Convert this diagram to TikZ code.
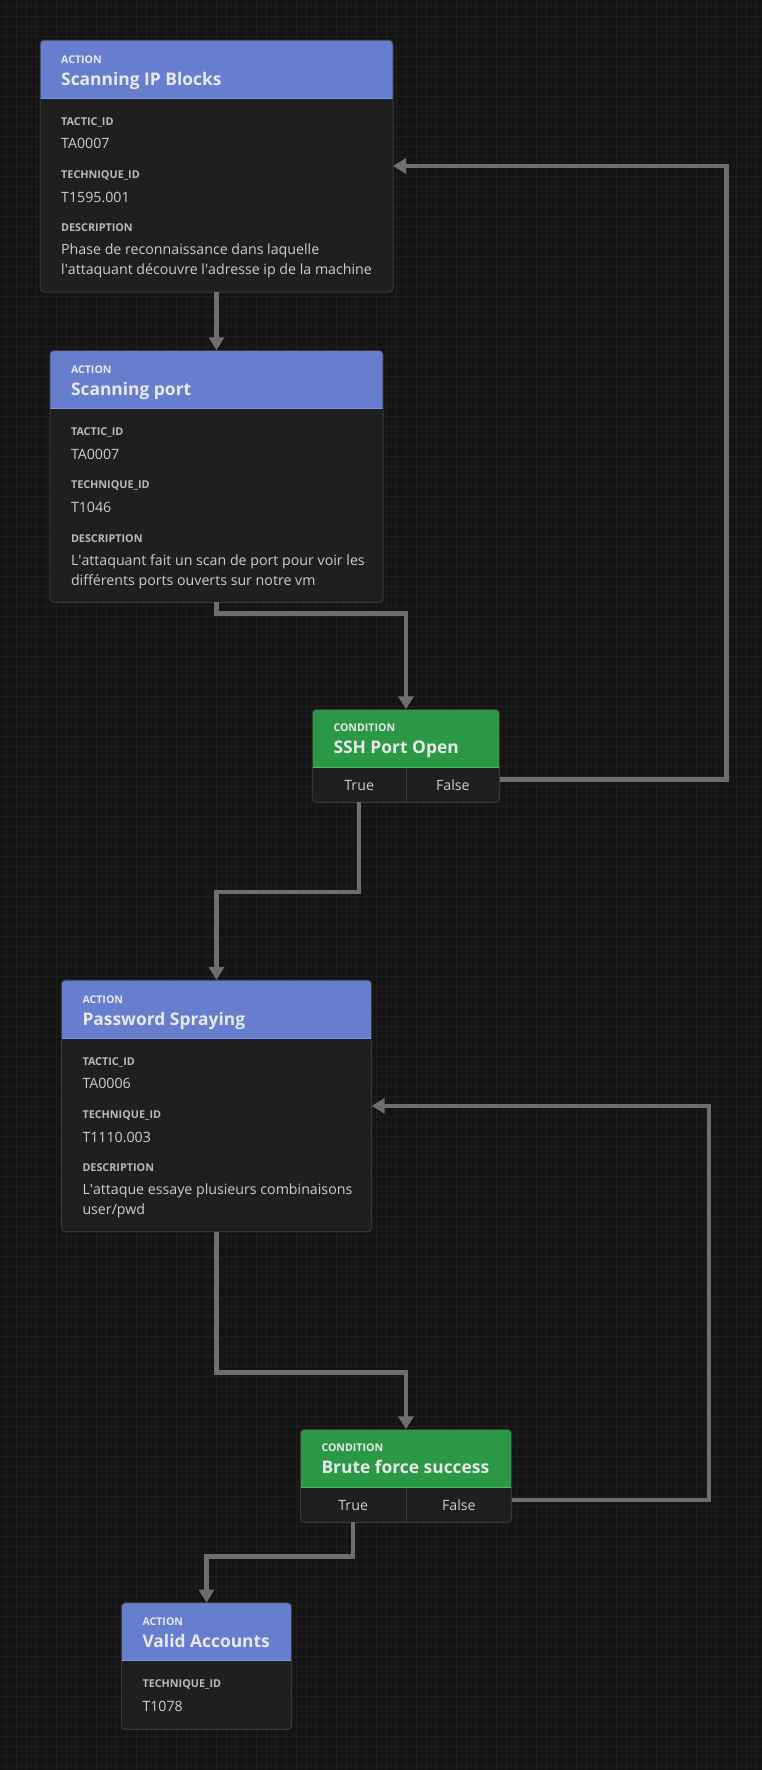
\documentclass[tikz,border=0pt]{standalone}
\usepackage{fontspec}
\setmainfont{Open Sans}
\usetikzlibrary{positioning,arrows.meta,calc}

\definecolor{canvas}{RGB}{20,20,20}
\definecolor{gridcol}{RGB}{30,30,30}
\definecolor{cardbody}{RGB}{31,31,31}
\definecolor{cardedge}{RGB}{56,56,56}
\definecolor{actionhead}{RGB}{102,126,205}
\definecolor{actionline}{RGB}{125,150,240}
\definecolor{condhead}{RGB}{43,152,69}
\definecolor{condline}{RGB}{72,190,98}
\definecolor{headtext}{RGB}{232,232,236}
\definecolor{labeltext}{RGB}{185,185,185}
\definecolor{valuetext}{RGB}{205,205,205}
\definecolor{wirecol}{RGB}{110,110,110}

\begin{document}
\begin{tikzpicture}[
    x=1pt, y=-1pt,
    >={Triangle[width=15pt,length=13pt]},
    card/.style={draw=cardedge, fill=cardbody, line width=1pt, rounded corners=4pt,
        inner sep=0pt, outer sep=0pt, anchor=north west},
    action/.style={card, path picture={
        \fill[actionhead, sharp corners] (path picture bounding box.north west)
            rectangle ([yshift=-58pt]path picture bounding box.north east);
        \draw[actionline, line width=1pt, sharp corners] ([yshift=-58pt]path picture bounding box.north west)
            -- ([yshift=-58pt]path picture bounding box.north east);}},
    condition/.style={card, minimum width=187.4pt, minimum height=93pt, path picture={
        \fill[condhead, sharp corners] (path picture bounding box.north west)
            rectangle ([yshift=-58pt]path picture bounding box.north east);
        \draw[condline, line width=1pt, sharp corners] ([yshift=-58pt]path picture bounding box.north west)
            -- ([yshift=-58pt]path picture bounding box.north east);}},
    kind/.style={anchor=base west, inner sep=0pt, text=headtext, font=\fontsize{10.6}{13}\selectfont\bfseries},
    title/.style={anchor=base west, inner sep=0pt, text=headtext, font=\fontsize{17.4}{21}\selectfont\bfseries},
    field/.style={anchor=base west, inner sep=0pt, text=labeltext, font=\fontsize{10.8}{13}\selectfont\bfseries},
    value/.style={anchor=base west, inner sep=0pt, text=valuetext, font=\fontsize{14.2}{18}\selectfont},
    branch/.style={anchor=base, inner sep=0pt, text=valuetext, font=\fontsize{14.2}{18}\selectfont},
    wire/.style={draw=wirecol, line width=4.5pt, ->}
]

    % canvas and grid
    \fill[canvas] (0,0) rectangle (762,1770);
    \useasboundingbox (0,0) rectangle (762,1770);
    \foreach \gx in {6,16,...,756} \draw[gridcol, line width=1pt] (\gx,0) -- (\gx,1770);
    \foreach \gy in {6,16,...,1766} \draw[gridcol, line width=1pt] (0,\gy) -- (762,\gy);

    % cards
    \node[action, minimum width=353pt, minimum height=252pt] (ScanIP) at (40,40) {};
    \node[action, minimum width=333.4pt, minimum height=252pt, below=58.3pt of ScanIP] (ScanPort) {};
    \node[condition] (SSH) at (312.3,709.3) {};
    \node[action, minimum width=310.4pt, minimum height=251.7pt] (Spray) at (61.3,980) {};
    \node[condition, minimum width=211.4pt] (Brute) at (300.3,1429.3) {};
    \node[action, minimum width=170.4pt, minimum height=126.6pt] (Valid) at (121.3,1602.7) {};

    % Scanning IP Blocks
    \node[kind]  at ($(ScanIP.north west)+(21,23)$)    {ACTION};
    \node[title] at ($(ScanIP.north west)+(21,45.2)$)  {Scanning IP Blocks};
    \node[field] at ($(ScanIP.north west)+(21,85.3)$)  {TACTIC\_ID};
    \node[value] at ($(ScanIP.north west)+(21,108.8)$) {TA0007};
    \node[field] at ($(ScanIP.north west)+(21,138.5)$) {TECHNIQUE\_ID};
    \node[value] at ($(ScanIP.north west)+(21,162.2)$) {T1595.001};
    \node[field] at ($(ScanIP.north west)+(21,191.7)$) {DESCRIPTION};
    \node[value] at ($(ScanIP.north west)+(21,214.8)$) {Phase de reconnaissance dans laquelle};
    \node[value] at ($(ScanIP.north west)+(21,234.8)$) {l\textquotesingle attaquant découvre l\textquotesingle adresse ip de la machine};

    % Scanning port
    \node[kind]  at ($(ScanPort.north west)+(21,23)$)    {ACTION};
    \node[title] at ($(ScanPort.north west)+(21,45.2)$)  {Scanning port};
    \node[field] at ($(ScanPort.north west)+(21,85.3)$)  {TACTIC\_ID};
    \node[value] at ($(ScanPort.north west)+(21,108.8)$) {TA0007};
    \node[field] at ($(ScanPort.north west)+(21,138.5)$) {TECHNIQUE\_ID};
    \node[value] at ($(ScanPort.north west)+(21,162.2)$) {T1046};
    \node[field] at ($(ScanPort.north west)+(21,191.7)$) {DESCRIPTION};
    \node[value] at ($(ScanPort.north west)+(21,214.8)$) {L\textquotesingle attaquant fait un scan de port pour voir les};
    \node[value] at ($(ScanPort.north west)+(21,234.8)$) {différents ports ouverts sur notre vm};

    % SSH Port Open
    \node[kind]  at ($(SSH.north west)+(21,22.5)$) {CONDITION};
    \node[title] at ($(SSH.north west)+(21,44.5)$) {SSH Port Open};
    \draw[cardedge, line width=1pt] ($(SSH.north)+(0,58.5)$) -- (SSH.south);
    \coordinate (SSH_true)  at ($(SSH.south west)!0.25!(SSH.south east)$);
    \coordinate (SSH_false) at ($(SSH.north east)+(0,70)$);
    \node[branch] at ($(SSH.north west)!0.25!(SSH.north east)+(0,81.2)$) {True};
    \node[branch] at ($(SSH.north west)!0.75!(SSH.north east)+(0,81.2)$) {False};

    % Password Spraying
    \node[kind]  at ($(Spray.north west)+(21,23)$)    {ACTION};
    \node[title] at ($(Spray.north west)+(21,45.2)$)  {Password Spraying};
    \node[field] at ($(Spray.north west)+(21,85.3)$)  {TACTIC\_ID};
    \node[value] at ($(Spray.north west)+(21,108.8)$) {TA0006};
    \node[field] at ($(Spray.north west)+(21,138.5)$) {TECHNIQUE\_ID};
    \node[value] at ($(Spray.north west)+(21,162.2)$) {T1110.003};
    \node[field] at ($(Spray.north west)+(21,191.7)$) {DESCRIPTION};
    \node[value] at ($(Spray.north west)+(21,214.8)$) {L\textquotesingle attaque essaye plusieurs combinaisons};
    \node[value] at ($(Spray.north west)+(21,234.8)$) {user/pwd};

    % Brute force success
    \node[kind]  at ($(Brute.north west)+(21,22.5)$) {CONDITION};
    \node[title] at ($(Brute.north west)+(21,44.5)$) {Brute force success};
    \draw[cardedge, line width=1pt] ($(Brute.north)+(0,58.5)$) -- (Brute.south);
    \coordinate (Brute_true)  at ($(Brute.south west)!0.25!(Brute.south east)$);
    \coordinate (Brute_false) at ($(Brute.north east)+(0,70.7)$);
    \node[branch] at ($(Brute.north west)!0.25!(Brute.north east)+(0,81.2)$) {True};
    \node[branch] at ($(Brute.north west)!0.75!(Brute.north east)+(0,81.2)$) {False};

    % Valid Accounts
    \node[kind]  at ($(Valid.north west)+(21,22.5)$)  {ACTION};
    \node[title] at ($(Valid.north west)+(21,44.7)$)  {Valid Accounts};
    \node[field] at ($(Valid.north west)+(21,85)$)    {TECHNIQUE\_ID};
    \node[value] at ($(Valid.north west)+(21,108.5)$) {T1078};

    % connectors
    \draw[wire] (ScanIP.south) -- (ScanPort.north);
    \draw[wire] (ScanPort.south) -- ++(0,11) -| (SSH.north);
    \draw[wire] (SSH_false) -- ++(227,0) |- (ScanIP.east);
    \draw[wire] (SSH_true) -- ++(0,89.7) -| (Spray.north);
    \draw[wire] (Spray.south) -- ++(0,141) -| (Brute.north);
    \draw[wire] (Brute_false) -- ++(197.3,0) |- (Spray.east);
    \draw[wire] (Brute_true) -- ++(0,34.4) -| (Valid.north);

\end{tikzpicture}
\end{document}
